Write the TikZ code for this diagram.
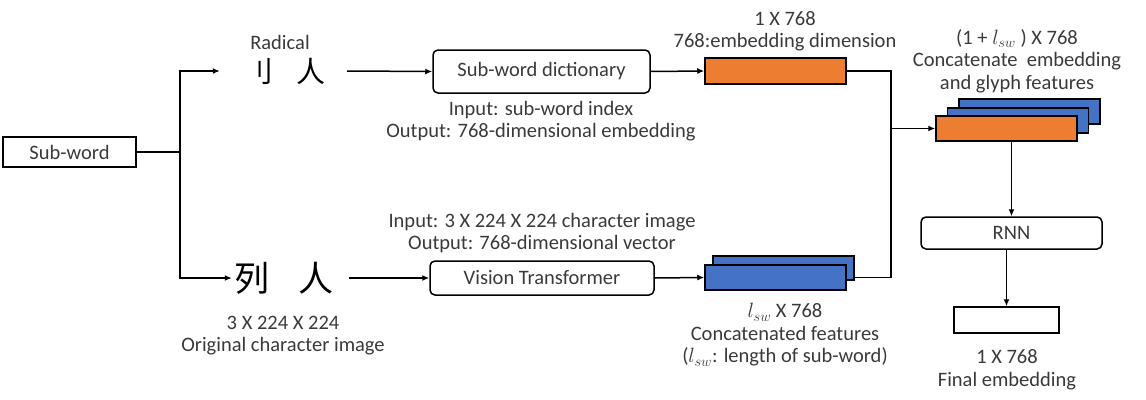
\documentclass[tikz,border=0pt]{standalone}
\usepackage{fontspec}
\setmainfont{Carlito}
\newfontfamily\cjk{Noto Sans CJK SC}
\usetikzlibrary{arrows.meta}
\definecolor{txtgray}{HTML}{3A3A3A}
\definecolor{orangeF}{HTML}{ED7D31}
\definecolor{blueF}{HTML}{4472C4}
\begin{document}
\begin{tikzpicture}[x=1pt,y=-1pt,
  font=\fontsize{20.5}{22.5}\selectfont,
  txt/.style={text=txtgray, align=center, inner sep=0pt},
  rbox/.style={draw, rounded corners=5pt, line width=1.5pt, text=txtgray, inner sep=0pt},
  sbox/.style={draw, line width=1.5pt, text=txtgray, inner sep=0pt},
  feat/.style={draw, line width=1.5pt, inner sep=0pt},
  conn/.style={line width=1.5pt},
  arr/.style={conn, -{Latex[length=7pt,width=6pt]}},
  hanzi/.style={font=\cjk\fontsize{29}{29}\selectfont, inner sep=0pt}]
\useasboundingbox (0,0) rectangle (1146,399);

% left
\node[sbox, minimum width=133, minimum height=30, line width=1.3pt] (sw) at (69.5,152) {Sub-word};
\coordinate (b) at (180,152);
\node[txt] (rad) at (280,42) {Radical};
\node[hanzi] (rc) at (285,71) {刂\hspace{24pt}人};
\node[hanzi, font=\cjk\fontsize{35}{35}\selectfont] (lc) at (284,278) {列\hspace{30pt}人};
\node[txt] (lcl) at (283,335.5) {3 X 224 X 224\\Original character image};

% dictionary branch
\node[rbox, minimum width=217, minimum height=43] (dict) at (541.5,71.5) {Sub-word dictionary};
\node[txt] (dictl) at (541,121) {Input: sub-word index\\Output: 768-dimensional embedding};
\node[feat, fill=orangeF, minimum width=141, minimum height=26] (emb) at (775.5,71) {};
\node[txt] (embl) at (785,31.5) {1 X 768\\768:embedding dimension};

% vision branch
\node[rbox, minimum width=224, minimum height=34] (vt) at (542,278) {Vision Transformer};
\node[txt] (vtl) at (542,233) {Input: 3 X 224 X 224 character image\\Output: 768-dimensional vector};
\node[feat, fill=blueF, minimum width=141, minimum height=24] (bb) at (783.5,268) {};
\node[feat, fill=blueF, minimum width=141, minimum height=25] (fb) at (775.5,277.5) {};
\node[txt] (fbl) at (785,335) {$l_{sw}$ X 768\\Concatenated features\\($l_{sw}$: length of sub-word)};

% concatenation stack
\node[feat, fill=blueF, minimum width=141, minimum height=25] (s3) at (1029.5,111.5) {};
\node[feat, fill=blueF, minimum width=141, minimum height=25] (s2) at (1018,120.5) {};
\node[feat, fill=orangeF, minimum width=141, minimum height=25] (s1) at (1006.5,128.5) {};
\node[txt] (sl) at (1017,61) {(1 + $l_{sw}$ ) X 768\\Concatenate~ embedding\\and glyph features};
\coordinate (j) at (891,128.5);

% RNN and output
\node[rbox, minimum width=181, minimum height=32] (rnn) at (1011.5,233) {RNN};
\node[sbox, minimum width=105, minimum height=26] (fin) at (1006.5,320) {};
\node[txt] (finl) at (1007,370) {1 X 768\\Final embedding};

% connectors
\draw[conn, line width=2pt] (sw.east) -- (b);
\draw[arr] (b) |- ([xshift=-24pt]rc.west);
\draw[arr] (b) |- ([xshift=-2pt]lc.west);
\draw[arr] ([xshift=21pt]rc.east) -- (dict.west);
\draw[arr] ([xshift=15pt]lc.east) -- (vt.west);
\draw[arr] (dict.east) -- (emb.west);
\draw[arr] (vt.east) -- (fb.west);
\draw[conn] (emb.east) -| (j) |- (fb.center -| bb.east);
\draw[arr] (j) -- (s1.west);
\draw[arr] (s1.south -| rnn.north) -- (rnn.north);
\draw[arr] (rnn.south -| fin.north) -- (fin.north);
\end{tikzpicture}
\end{document}
